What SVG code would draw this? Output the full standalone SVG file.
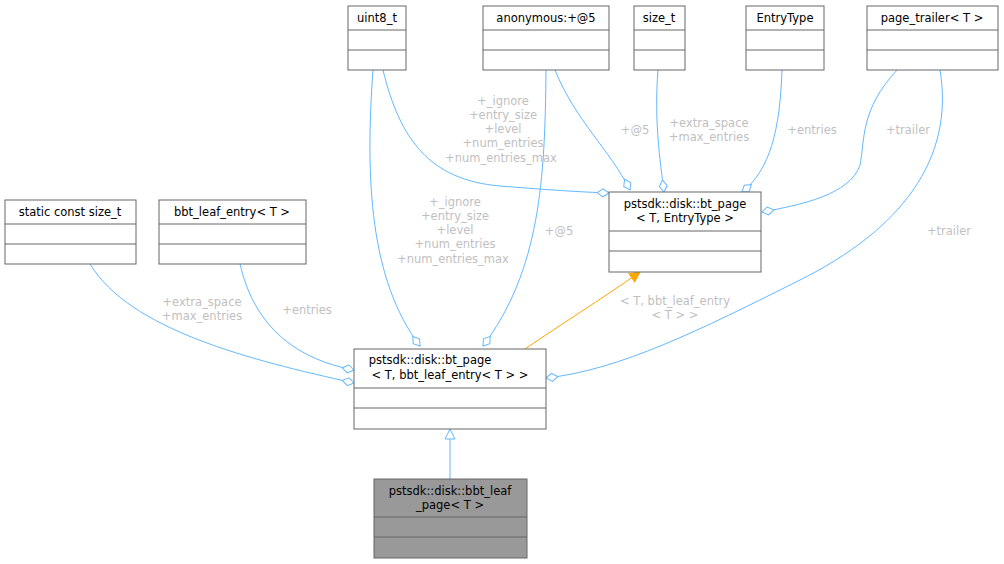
<svg xmlns="http://www.w3.org/2000/svg" width="1004" height="564" viewBox="0 0 1004 564">
<style>
.b{fill:#fff;stroke:#666;stroke-width:1}
.t{font-family:"DejaVu Sans",sans-serif;font-size:11.5px;fill:#000;text-anchor:middle}
.l{font-family:"DejaVu Sans",sans-serif;font-size:11.5px;fill:#bfbfbf;text-anchor:middle}
.e{fill:none;stroke:#63b8ff;stroke-width:1}
</style>
<defs>
<marker id="d" markerUnits="userSpaceOnUse" markerWidth="14" markerHeight="10" refX="13" refY="5" orient="auto"><path d="M1,5 L7,1 L13,5 L7,9 z" fill="#fff" stroke="#63b8ff"/></marker>
<marker id="o" markerUnits="userSpaceOnUse" markerWidth="12" markerHeight="12" refX="11" refY="6" orient="auto"><path d="M1,1 L11,6 L1,11 z" fill="#ffa500" stroke="#ffa500"/></marker>
<marker id="i" markerUnits="userSpaceOnUse" markerWidth="12" markerHeight="12" refX="11" refY="6" orient="auto"><path d="M1,1 L11,6 L1,11 z" fill="#fff" stroke="#63b8ff"/></marker>
</defs>
<g id="connectors">
<path class="e" marker-end="url(#d)" d="M383,70 C400,140 430,180 500,186 C550,190 580,192 609,193"/>
<path class="e" marker-end="url(#d)" d="M555,70 C575,120 610,150 630,190"/>
<path class="e" marker-end="url(#d)" d="M658,70 C654,120 660,160 664,192"/>
<path class="e" marker-end="url(#d)" d="M782,70 C780,130 770,170 742,192"/>
<path class="e" marker-end="url(#d)" d="M897,70 C860,110 865,140 860,165 C850,195 800,205 762,212"/>
<path class="e" marker-end="url(#d)" d="M373,70 C365,180 370,280 420,346"/>
<path class="e" marker-end="url(#d)" d="M546,70 C545,180 540,270 483,346"/>
<path class="e" marker-end="url(#d)" d="M90,264 C130,330 250,360 354,383"/>
<path class="e" marker-end="url(#d)" d="M240,264 C255,330 300,360 354,370"/>
<path class="e" marker-end="url(#d)" d="M940,70 C955,160 900,230 800,280 C700,330 620,370 546,378"/>
<path fill="none" stroke="#ffa500" marker-end="url(#o)" d="M525,349 C560,325 600,300 640,272"/>
<path class="e" marker-end="url(#i)" d="M450,479 L450,429"/>
</g>
<g id="labels">
<text class="l" x="503" y="105">+_ignore</text><text class="l" x="503" y="119">+entry_size</text><text class="l" x="503" y="133">+level</text><text class="l" x="503" y="147">+num_entries</text><text class="l" x="501" y="162">+num_entries_max</text>
<text class="l" x="635" y="134">+@5</text>
<text class="l" x="709" y="127">+extra_space</text><text class="l" x="709" y="141">+max_entries</text>
<text class="l" x="812" y="134">+entries</text>
<text class="l" x="908" y="134">+trailer</text>
<text class="l" x="455" y="206">+_ignore</text><text class="l" x="455" y="220">+entry_size</text><text class="l" x="455" y="234">+level</text><text class="l" x="455" y="248">+num_entries</text><text class="l" x="453" y="263">+num_entries_max</text>
<text class="l" x="559" y="235">+@5</text>
<text class="l" x="949" y="235">+trailer</text>
<text class="l" x="202" y="306">+extra_space</text><text class="l" x="202" y="320">+max_entries</text>
<text class="l" x="307" y="314">+entries</text>
<text class="l" x="675" y="305">&lt; T, bbt_leaf_entry</text><text class="l" x="675" y="319">&lt; T &gt; &gt;</text>
</g>
<g id="uint8"><rect class="b" x="348" y="6" width="58" height="64"/><path class="b" d="M348,30H406M348,50H406"/><text class="t" x="377" y="22">uint8_t</text></g>
<g id="anon"><rect class="b" x="483" y="6" width="126" height="64"/><path class="b" d="M483,30H609M483,50H609"/><text class="t" x="546" y="22">anonymous:+@5</text></g>
<g id="sizet"><rect class="b" x="634" y="6" width="51" height="64"/><path class="b" d="M634,30H685M634,50H685"/><text class="t" x="659" y="22">size_t</text></g>
<g id="entrytype"><rect class="b" x="746" y="6" width="78" height="64"/><path class="b" d="M746,30H824M746,50H824"/><text class="t" x="785" y="22">EntryType</text></g>
<g id="pagetrailer"><rect class="b" x="867" y="6" width="131" height="64"/><path class="b" d="M867,30H998M867,50H998"/><text class="t" x="932" y="22">page_trailer&lt; T &gt;</text></g>
<g id="staticconst"><rect class="b" x="5" y="200" width="131" height="64"/><path class="b" d="M5,224H136M5,244H136"/><text class="t" x="70" y="216">static const size_t</text></g>
<g id="bbtleafentry"><rect class="b" x="159" y="200" width="147" height="64"/><path class="b" d="M159,224H306M159,244H306"/><text class="t" x="232" y="216">bbt_leaf_entry&lt; T &gt;</text></g>
<g id="btpage"><rect class="b" x="609" y="192" width="152" height="80"/><path class="b" d="M609,231H761M609,251H761"/><text class="t" x="685" y="208">pstsdk::disk::bt_page</text><text class="t" x="685" y="222">&lt; T, EntryType &gt;</text></g>
<g id="btpageleaf"><rect class="b" x="354" y="349" width="192" height="80"/><path class="b" d="M354,388H546M354,408H546"/><text class="t" x="430" y="364">pstsdk::disk::bt_page</text><text class="t" x="450" y="379">&lt; T, bbt_leaf_entry&lt; T &gt; &gt;</text></g>
<g id="bbtleafpage"><rect x="374" y="479" width="153" height="79" fill="#999" stroke="#666"/><path class="b" d="M374,517H527M374,537H527"/><text class="t" x="450" y="495">pstsdk::disk::bbt_leaf</text><text class="t" x="450" y="509">_page&lt; T &gt;</text></g>
</svg>
